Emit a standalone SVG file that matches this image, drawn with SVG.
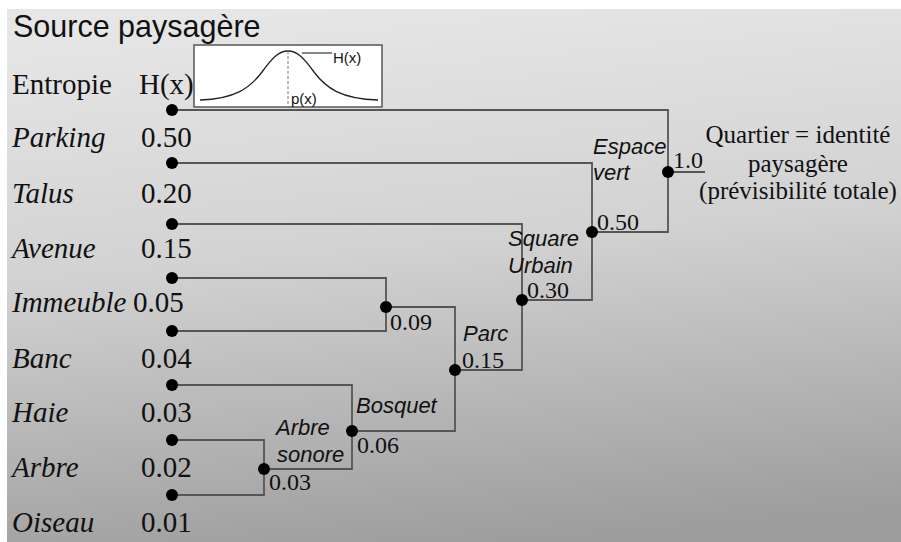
<svg xmlns="http://www.w3.org/2000/svg" width="901" height="542" viewBox="0 0 901 542">
<defs>
<linearGradient id="bg" x1="0.35" y1="0" x2="0.5" y2="1">
<stop offset="0" stop-color="#e6e6e6"/>
<stop offset="0.45" stop-color="#d2d2d2"/>
<stop offset="1" stop-color="#9e9e9e"/>
</linearGradient>
<style>
text{font-family:'Liberation Serif','Tinos','Times New Roman','DejaVu Serif',serif;fill:#111}
.lbl{font-size:29px;font-style:italic}
.val{font-size:29px}
.num{font-size:24px}
.nm{font-family:'Liberation Sans',Arial,sans-serif;font-size:22px;font-style:italic}
.sans{font-family:'Liberation Sans',Arial,sans-serif}
.q{font-size:25px;text-anchor:middle}
.ln{fill:none;stroke:#555;stroke-width:1.8}
.dot{fill:#000}
</style>
</defs>
<rect x="0" y="0" width="901" height="542" fill="#ffffff"/>
<rect x="7" y="9" width="894" height="533" fill="url(#bg)"/>
<text x="13" y="37" class="sans" font-size="30.5">Source paysagère</text>
<text x="12" y="94" class="val" font-size="31">Entropie</text>
<text x="139" y="94" class="val" font-size="29">H(x)</text>
<g id="inset">
<rect x="194" y="45" width="188" height="62" fill="#fff" stroke="#555" stroke-width="1.5"/>
<path d="M200,100 C235,99 250,88 262,72 C272,58 279,51 288,51 C297,51 304,58 314,72 C326,88 341,99 378,100" fill="none" stroke="#222" stroke-width="1.3"/>
<line x1="288" y1="51" x2="288" y2="107" stroke="#777" stroke-width="1" stroke-dasharray="3,2"/>
<line x1="302" y1="53" x2="332" y2="53" stroke="#333" stroke-width="1.2"/>
<text x="333" y="63" class="sans" font-size="15">H(x)</text>
<text x="291" y="104" class="sans" font-size="15">p(x)</text>
</g>
<g id="leaves">
<text x="12" y="147" class="lbl">Parking</text><text x="141" y="147" class="val">0.50</text>
<text x="12" y="203" class="lbl">Talus</text><text x="141" y="203" class="val">0.20</text>
<text x="12" y="258" class="lbl">Avenue</text><text x="141" y="258" class="val">0.15</text>
<text x="12" y="312" class="lbl">Immeuble</text><text x="133" y="312" class="val">0.05</text>
<text x="12" y="368" class="lbl">Banc</text><text x="141" y="368" class="val">0.04</text>
<text x="12" y="422" class="lbl">Haie</text><text x="141" y="422" class="val">0.03</text>
<text x="12" y="477" class="lbl">Arbre</text><text x="141" y="477" class="val">0.02</text>
<text x="12" y="532" class="lbl">Oiseau</text><text x="141" y="532" class="val">0.01</text>
</g>
<g id="connectors">
<polyline class="ln" points="172,110 668,110 668,232 592,232"/>
<line class="ln" x1="668" y1="172" x2="705" y2="172"/>
<polyline class="ln" points="172,163 592,163 592,300 522,300"/>
<polyline class="ln" points="172,224 522,224 522,370 455,370"/>
<polyline class="ln" points="386,307 455,307 455,431 352,431"/>
<polyline class="ln" points="172,278 386,278 386,331 172,331"/>
<polyline class="ln" points="172,385 352,385 352,469 264,469"/>
<polyline class="ln" points="172,440 264,440 264,495 172,495"/>
</g>
<g id="dots">
<circle class="dot" cx="172" cy="110" r="6"/>
<circle class="dot" cx="172" cy="163" r="6"/>
<circle class="dot" cx="172" cy="224" r="6"/>
<circle class="dot" cx="172" cy="278" r="6"/>
<circle class="dot" cx="172" cy="331" r="6"/>
<circle class="dot" cx="172" cy="385" r="6"/>
<circle class="dot" cx="172" cy="440" r="6"/>
<circle class="dot" cx="172" cy="495" r="6"/>
</g>
<g id="n-arbre-sonore"><circle class="dot" cx="264" cy="469" r="6"/><text x="276" y="435" class="nm">Arbre</text><text x="277" y="462" class="nm">sonore</text><text x="269" y="490" class="num">0.03</text></g>
<g id="n-bosquet"><circle class="dot" cx="352" cy="431" r="6"/><text x="356" y="413" class="nm">Bosquet</text><text x="357" y="453" class="num">0.06</text></g>
<g id="n-009"><circle class="dot" cx="386" cy="307" r="6"/><text x="390" y="330" class="num">0.09</text></g>
<g id="n-parc"><circle class="dot" cx="455" cy="370" r="6"/><text x="463" y="341" class="nm">Parc</text><text x="462" y="368" class="num">0.15</text></g>
<g id="n-square"><circle class="dot" cx="522" cy="300" r="6"/><text x="508" y="246" class="nm">Square</text><text x="508" y="273" class="nm">Urbain</text><text x="527" y="298" class="num">0.30</text></g>
<g id="n-espace"><circle class="dot" cx="592" cy="232" r="6"/><text x="593" y="154" class="nm">Espace</text><text x="593" y="180" class="nm">vert</text><text x="597" y="230" class="num">0.50</text></g>
<g id="n-root"><circle class="dot" cx="668" cy="172" r="6"/><text x="673" y="168" class="num">1.0</text></g>
<g id="quartier">
<text x="798" y="143" class="q">Quartier = identité</text>
<text x="798" y="172" class="q">paysagère</text>
<text x="798" y="199" class="q">(prévisibilité totale)</text>
</g>
</svg>
